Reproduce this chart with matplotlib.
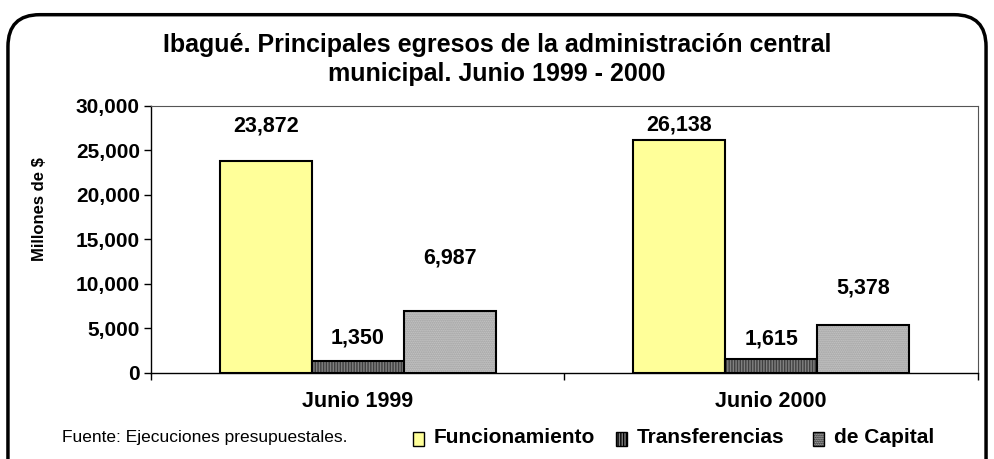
import matplotlib
matplotlib.use("Agg")
import matplotlib.pyplot as plt
from matplotlib.patches import FancyBboxPatch, Rectangle
import numpy as np

# data
periodos = ["Junio 1999", "Junio 2000"]
series = ["Funcionamiento", "Transferencias", "de Capital"]
funcionamiento = [23872, 26138]
transferencias = [1350, 1615]
capital = [6987, 5378]
yticks = [0, 5000, 10000, 15000, 20000, 25000, 30000]

plt.rcParams['font.family'] = ['Liberation Sans', 'DejaVu Sans']

fig = plt.figure(figsize=(9.94, 4.59), dpi=100)
ax = fig.add_axes([0.1519, 0.1874, 0.832, 0.5817])

w = 0.2225
x = np.arange(len(periodos))
face = ["#ffff99", "#808080", "#cccccc"]
hatch = [None, "||||||", "........"]
hcol = [None, "#404040", "#999999"]
# label offsets in pixels above the bar top
offs = [[35, 15], [23, 20], [53, 37]]

for i, vals in enumerate([funcionamiento, transferencias, capital]):
    pos = x + (i - 1) * w
    if hatch[i]:
        ax.bar(pos, vals, w, color=face[i], hatch=hatch[i], edgecolor=hcol[i], linewidth=0)
    ax.bar(pos, vals, w, facecolor="none" if hatch[i] else face[i], edgecolor="black", linewidth=1.5)
    for j, v in enumerate(vals):
        ax.annotate(f"{v:,}", (pos[j], v), xytext=(0, offs[i][j] * 0.72), textcoords="offset points",
                    ha="center", va="center", fontsize=15.5, fontweight="bold")

ax.set_xlim(-0.5, 1.5)
ax.set_ylim(0, 30000)
ax.set_yticks(yticks)
ax.set_yticklabels([f"{t:,}" for t in yticks], fontsize=15, fontweight="bold")
ax.set_xticks([-0.5, 0.5, 1.5])
ax.set_xticklabels([])
ax.set_xticks(x, minor=True)
ax.set_xticklabels(periodos, minor=True, fontsize=15.5, fontweight="bold")
ax.tick_params(axis="x", which="minor", length=0, pad=13)
ax.tick_params(axis="y", pad=3)
ax.tick_params(axis="both", which="major", direction="out", length=5, width=1)
for s in ["left", "bottom"]:
    ax.spines[s].set_linewidth(1)
for s in ["top", "right"]:
    ax.spines[s].set_color("#555555")
ax.set_ylabel("Millones de $", fontsize=12, fontweight="bold")
ax.yaxis.set_label_coords(-0.126, 0.614)

fig.text(0.5, 0.903, "Ibagué. Principales egresos de la administración central",
         ha="center", va="center", fontsize=18, fontweight="bold")
fig.text(0.5, 0.838, "municipal. Junio 1999 - 2000",
         ha="center", va="center", fontsize=18, fontweight="bold")

# frame with rounded corners
frame = FancyBboxPatch((0.008, -0.2), 0.984, 1.168, boxstyle="round,pad=0,rounding_size=0.032",
                       transform=fig.transFigure, facecolor="none", edgecolor="black", linewidth=2.5,
                       mutation_aspect=994 / 459)
fig.patches.append(frame)

# footer
fig.text(0.062, 0.046, "Fuente: Ejecuciones presupuestales.", ha="left", va="center", fontsize=12.5)
lx = [413 / 994, 616 / 994, 813 / 994]
for i, name in enumerate(series):
    r = Rectangle((lx[i], 0.029), 0.011, 0.03, transform=fig.transFigure, facecolor=face[i],
                  hatch=hatch[i], edgecolor="black", linewidth=1)
    fig.patches.append(r)
    fig.text(lx[i] + 0.021, 0.046, name, ha="left", va="center", fontsize=15, fontweight="bold")

fig.savefig("out.png", dpi=100)
